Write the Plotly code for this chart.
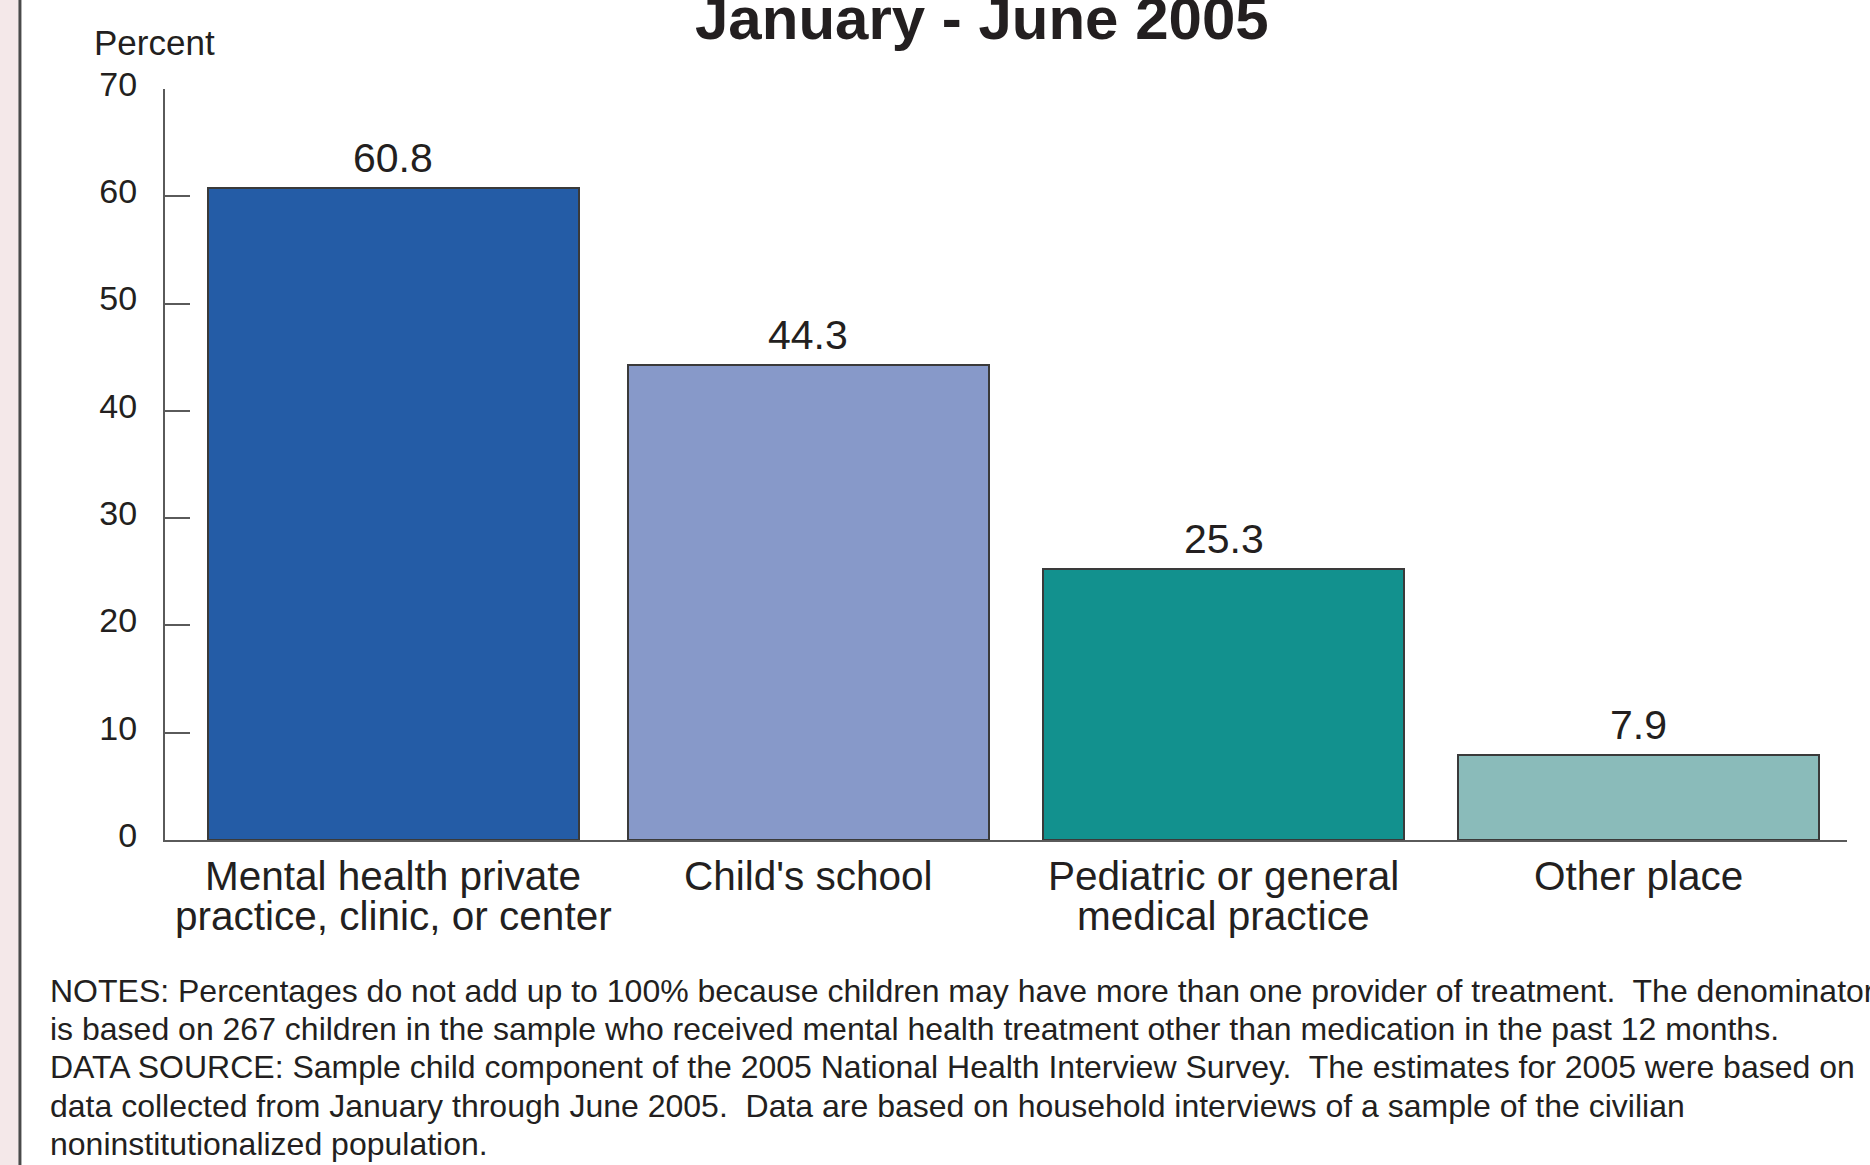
import plotly.graph_objects as go

# ---- data ----
categories = [
    "Mental health private\npractice, clinic, or center",
    "Child's school",
    "Pediatric or general\nmedical practice",
    "Other place",
]
percent_values = [60.8, 44.3, 25.3, 7.9]
value_labels = ["60.8", "44.3", "25.3", "7.9"]
y_ticks = [0, 10, 20, 30, 40, 50, 60, 70]
title_text = "January - June 2005"
y_axis_label = "Percent"
notes_lines = [
    "NOTES: Percentages do not add up to 100% because children may have more than one provider of treatment.  The denominator",
    "is based on 267 children in the sample who received mental health treatment other than medication in the past 12 months.",
    "DATA SOURCE: Sample child component of the 2005 National Health Interview Survey.  The estimates for 2005 were based on",
    "data collected from January through June 2005.  Data are based on household interviews of a sample of the civilian",
    "noninstitutionalized population.",
]

# ---- layout geometry (pixels) ----
W, H = 1870, 1165
L, R_EDGE, T, B_EDGE = 164.6, 1847, 89, 840
PW, PH = R_EDGE - L, B_EDGE - T

def px_x(p):
    return (p - L) / PW

def px_y(p):
    return (B_EDGE - p) / PH

FONT = "Liberation Sans, Arial, Helvetica, sans-serif"
TXT = "#231f20"
bar_colors = ["#245ca6", "#8799c9", "#12918e", "#8abbba"]

CAT_SIZE = 40.5
VAL_SIZE = 41
TITLE_SIZE = 60
TICK_SIZE = 34
LABEL_SIZE = 35
NOTE_SIZE = 32

x_idx = list(range(len(categories)))

fig = go.Figure()
fig.add_trace(go.Bar(
    x=x_idx,
    y=percent_values,
    width=[0.8935, 0.8695, 0.8695, 0.8695],
    marker=dict(color=bar_colors, line=dict(color="#3a3a3a", width=2)),
    hoverinfo="skip",
))

annotations = []
# value labels
for xi, v, lab in zip(x_idx, percent_values, value_labels):
    annotations.append(dict(
        x=xi, y=v, xref="x", yref="y", text=lab, showarrow=False,
        xanchor="center", yanchor="middle", yshift=30,
        font=dict(family=FONT, size=VAL_SIZE, color=TXT),
    ))
# category labels (each line separately for tight line spacing)
for xi, cat in zip(x_idx, categories):
    for k, line in enumerate(cat.split("\n")):
        base = 890 + 40 * k
        annotations.append(dict(
            x=xi, y=px_y(base - 0.3465 * CAT_SIZE), xref="x", yref="paper",
            text=line, showarrow=False, xanchor="center", yanchor="middle",
            font=dict(family=FONT, size=CAT_SIZE, color=TXT),
        ))
# title
annotations.append(dict(
    x=px_x(981.5), y=px_y(39 - 0.3465 * TITLE_SIZE), xref="paper", yref="paper",
    text="<b>" + title_text + "</b>", showarrow=False,
    xanchor="center", yanchor="middle",
    font=dict(family=FONT, size=TITLE_SIZE, color=TXT),
))
# y axis label
annotations.append(dict(
    x=px_x(92), y=px_y(55 - 0.3465 * LABEL_SIZE), xref="paper", yref="paper",
    text=y_axis_label, showarrow=False, xanchor="left", yanchor="middle",
    font=dict(family=FONT, size=LABEL_SIZE, color=TXT),
))
# notes
for k, line in enumerate(notes_lines):
    base = 1002 + 38.2 * k
    annotations.append(dict(
        x=px_x(48), y=px_y(base - 0.3465 * NOTE_SIZE), xref="paper", yref="paper",
        text=line, showarrow=False, xanchor="left", yanchor="middle",
        font=dict(family=FONT, size=NOTE_SIZE, color=TXT),
    ))

shapes = [
    dict(type="rect", xref="paper", yref="paper",
         x0=px_x(-5), x1=px_x(18), y0=px_y(H + 5), y1=px_y(-5),
         fillcolor="#f4e8e9", line=dict(width=0), layer="below"),
    dict(type="line", xref="paper", yref="paper",
         x0=px_x(19.5), x1=px_x(19.5), y0=px_y(H + 5), y1=px_y(-5),
         line=dict(color="#4a4a4a", width=3)),
]

fig.update_layout(
    width=W, height=H,
    margin=dict(l=L, r=W - R_EDGE, t=T, b=H - B_EDGE, pad=0),
    paper_bgcolor="white", plot_bgcolor="white",
    showlegend=False,
    bargap=0,
    font=dict(family=FONT, color=TXT),
    xaxis=dict(
        range=[-0.5501, 3.5017], showgrid=False, zeroline=False,
        showline=True, linecolor="#5a5a5a", linewidth=2,
        ticks="", showticklabels=False, fixedrange=True,
    ),
    yaxis=dict(
        range=[0, 70], tickvals=y_ticks, ticktext=[str(t) for t in y_ticks],
        showgrid=False, zeroline=False, showline=True,
        linecolor="#5a5a5a", linewidth=2,
        ticks="inside", ticklen=25, tickwidth=2, tickcolor="#5a5a5a",
        ticklabelstandoff=19, ticklabelshift=-5,
        tickfont=dict(family=FONT, size=TICK_SIZE, color=TXT), fixedrange=True,
    ),
    annotations=annotations,
    shapes=shapes,
)

fig.write_html("out.html", config={"displayModeBar": False})
